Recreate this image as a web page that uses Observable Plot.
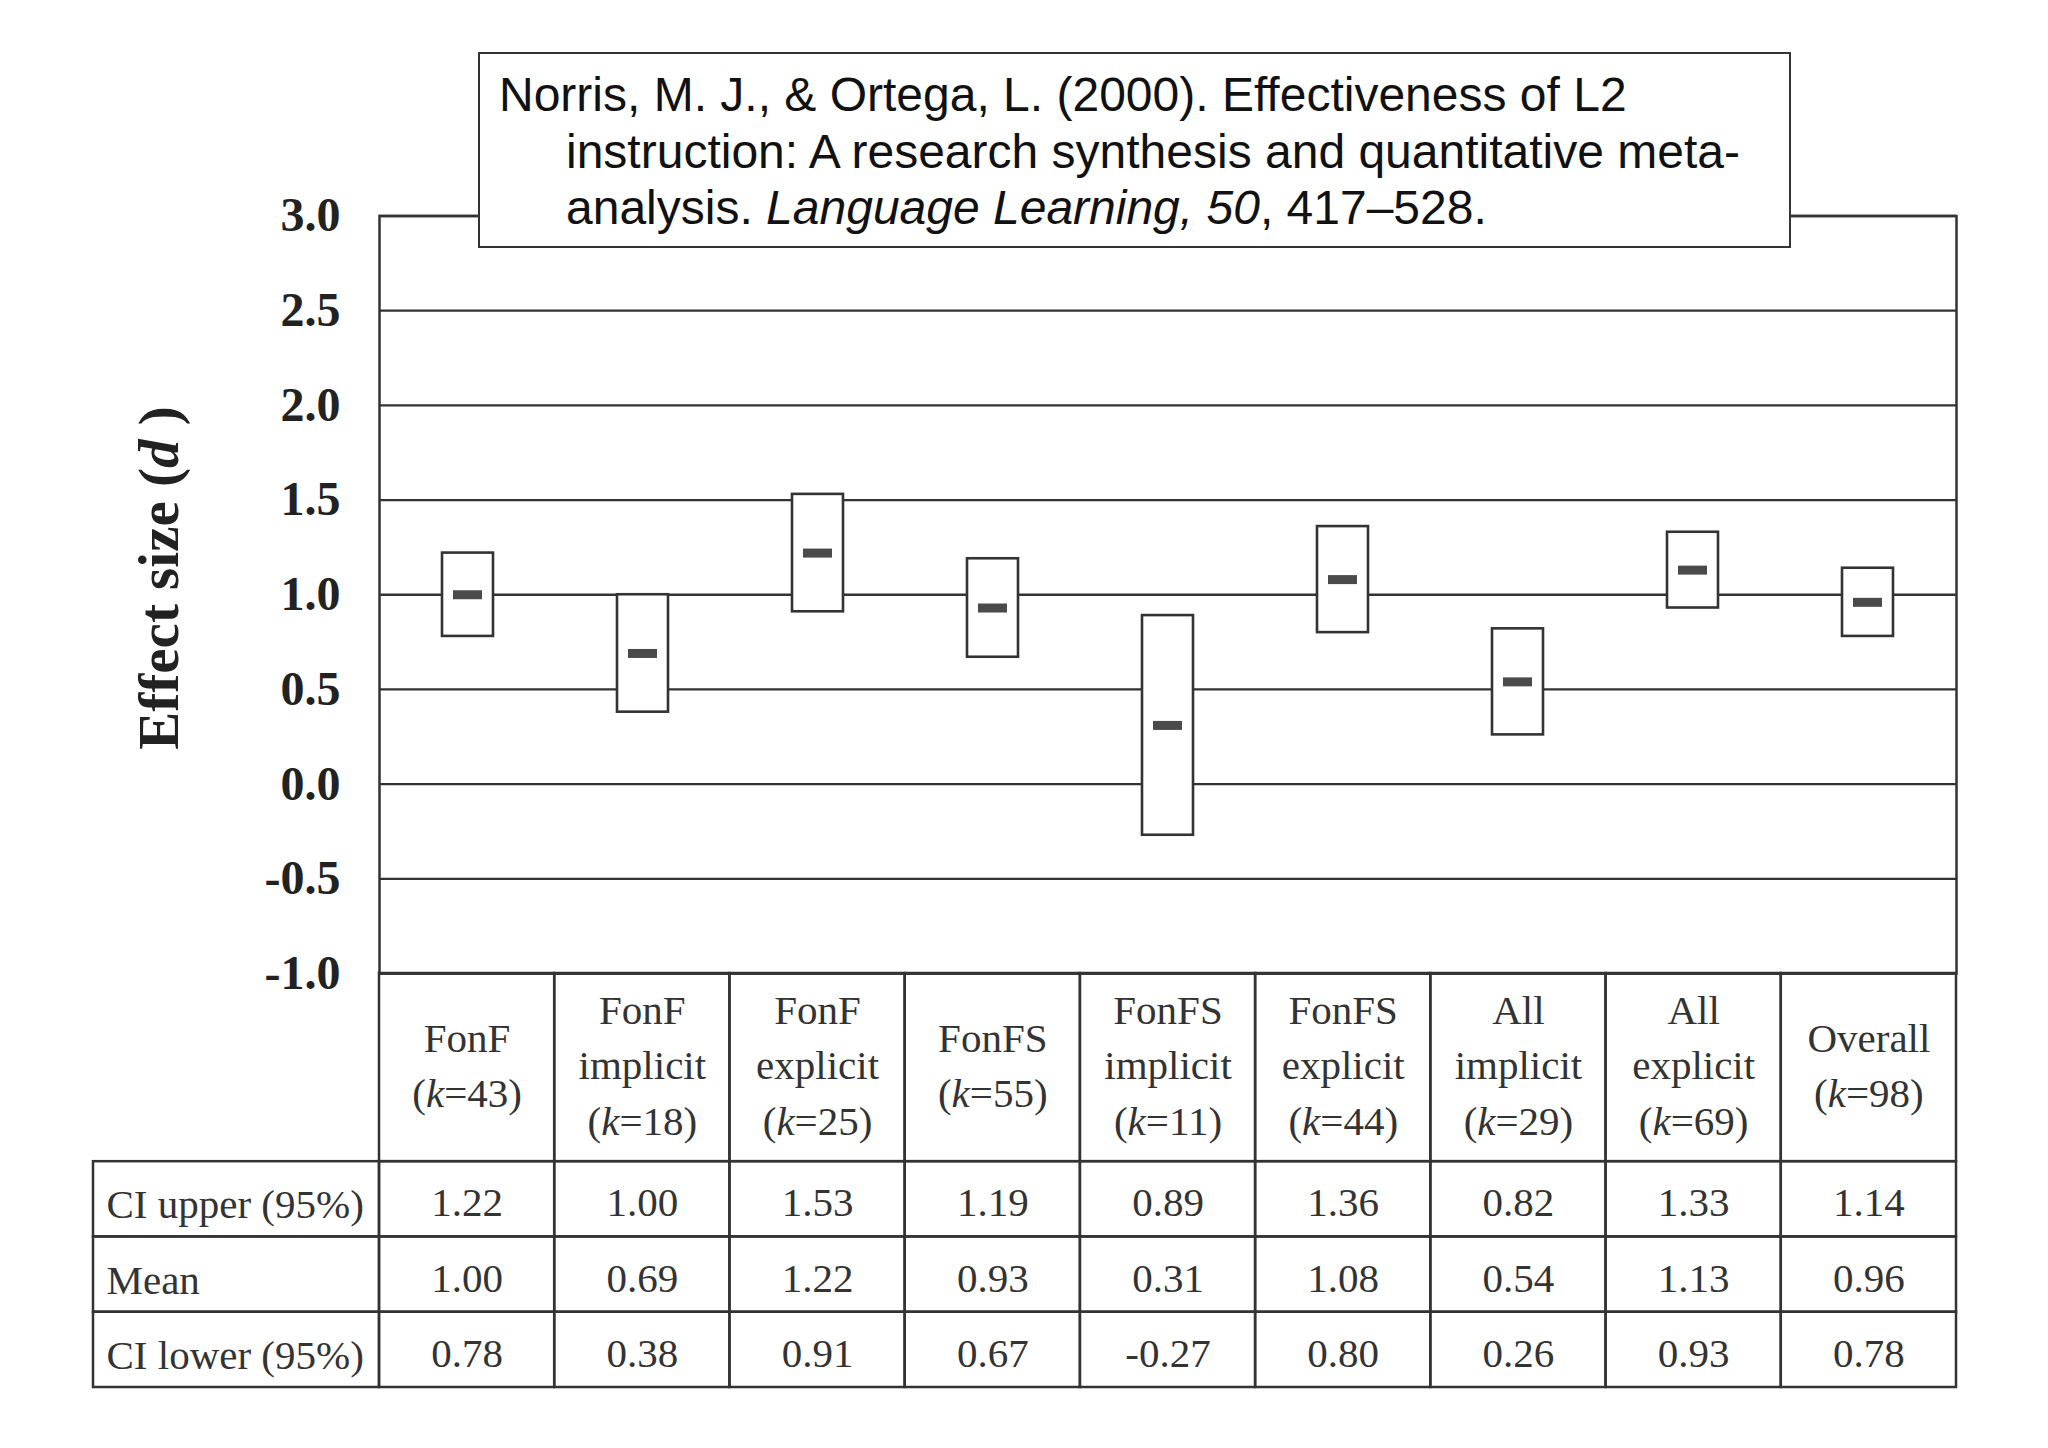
<!DOCTYPE html>
<html>
<head>
<meta charset="utf-8">
<script src="https://cdn.jsdelivr.net/npm/d3@7"></script>
<script src="https://cdn.jsdelivr.net/npm/@observablehq/plot@0.6"></script>
<style>
  html, body { margin: 0; padding: 0; background: #fff; overflow: hidden; }
  #root { position: relative; width: 2048px; height: 1448px; background: #fff; }
  #root svg { position: absolute; left: 0; display: block; max-width: none; }
  #cite {
    position: absolute; left: 478px; top: 52px; width: 1313px; height: 196px;
    box-sizing: border-box; border: 2.5px solid #333; background: #fff; z-index: 3;
    font-family: "Liberation Sans", Arial, sans-serif; font-size: 48px; line-height: 56.5px;
    color: #111; padding: 13px 0 0 86px; text-indent: -67px; white-space: nowrap;
  }
  #ytitle {
    position: absolute; left: 158px; top: 578px; z-index: 3;
    transform: translate(-50%, -50%) rotate(-90deg); white-space: nowrap;
    font-family: "Liberation Serif", "Times New Roman", serif; font-weight: bold;
    font-size: 57px; color: #222; line-height: 1;
  }
</style>
</head>
<body>
<div id="root">
  <div id="cite">Norris, M. J., &amp; Ortega, L. (2000). Effectiveness of L2<br>instruction: A research synthesis and quantitative meta-<br>analysis. <i>Language Learning, 50</i>, 417–528.</div>
  <div id="ytitle">Effect size (<i>d</i> )</div>
</div>
<script>
// ---------- data ----------
const categories = ["FonF", "FonF implicit", "FonF explicit", "FonFS", "FonFS implicit",
                    "FonFS explicit", "All implicit", "All explicit", "Overall"];
const headerLines = [["FonF"], ["FonF", "implicit"], ["FonF", "explicit"], ["FonFS"],
                     ["FonFS", "implicit"], ["FonFS", "explicit"], ["All", "implicit"],
                     ["All", "explicit"], ["Overall"]];
const kValues = [43, 18, 25, 55, 11, 44, 29, 69, 98];
const ciUpper = [1.22, 1.00, 1.53, 1.19, 0.89, 1.36, 0.82, 1.33, 1.14];
const means   = [1.00, 0.69, 1.22, 0.93, 0.31, 1.08, 0.54, 1.13, 0.96];
const ciLower = [0.78, 0.38, 0.91, 0.67, -0.27, 0.80, 0.26, 0.93, 0.78];
const yTicks = [-1, -0.5, 0, 0.5, 1, 1.5, 2, 2.5, 3];
const rowLabels = ["CI upper (95%)", "Mean", "CI lower (95%)"];

const data = categories.map((c, i) => ({cat: c, upper: ciUpper[i], mean: means[i], lower: ciLower[i]}));

const root = document.getElementById("root");
const LINE = "#333";
const W = 2048, ML = 379, MR = 92;

// ---------- chart ----------
const chart = Plot.plot({
  width: W, height: 990,
  marginLeft: ML, marginRight: MR, marginTop: 215.5, marginBottom: 17,
  x: {type: "band", domain: categories, padding: 0, axis: null},
  y: {domain: [-1, 3], axis: null},
  style: {fontFamily: "Liberation Serif, serif", fontSize: "48px", fontWeight: "bold",
          color: "#222", background: "transparent", overflow: "visible"},
  marks: [
    Plot.ruleY(yTicks, {stroke: LINE, strokeWidth: 2.3, strokeOpacity: 1}),
    Plot.frame({stroke: LINE, strokeWidth: 2.5}),
    Plot.rect(data, {x: "cat", y1: "lower", y2: "upper", fill: "white", stroke: LINE,
                     strokeWidth: 2.6, insetLeft: 62, insetRight: 62}),
    Plot.tickY(data, {x: "cat", y: "mean", stroke: "#4a4a4a", strokeWidth: 9,
                      strokeOpacity: 1, insetLeft: 73, insetRight: 73}),
    Plot.axisY({ticks: yTicks, tickFormat: d => d.toFixed(1), tickSize: 0, tickPadding: 39,
                fontSize: 48, fontWeight: "bold", fill: "#222", label: null})
  ]
});
chart.style.top = "0px";
root.appendChild(chart);

// ---------- table ----------
const labelUnits = (ML - 93) / ((W - ML - MR) / categories.length);
const HEADER = 2.5;
const cells = [];
categories.forEach((c, i) => {
  cells.push({x1: i, x2: i + 1, y1: 0, y2: HEADER,
              text: headerLines[i].join("\n") + "\n(k=" + kValues[i] + ")", kind: "head"});
});
const rowValues = [ciUpper, means, ciLower];
rowLabels.forEach((lab, r) => {
  cells.push({x1: -labelUnits, x2: 0, y1: HEADER + r, y2: HEADER + r + 1, text: lab, kind: "label"});
  rowValues[r].forEach((v, i) => {
    cells.push({x1: i, x2: i + 1, y1: HEADER + r, y2: HEADER + r + 1, text: v.toFixed(2), kind: "value"});
  });
});

const cx = d => (d.x1 + d.x2) / 2;
const cy = d => (d.y1 + d.y2) / 2;

const table = Plot.plot({
  width: W, height: 444,
  marginLeft: 93, marginRight: MR, marginTop: 10, marginBottom: 20,
  x: {type: "linear", domain: [-labelUnits, categories.length], axis: null},
  y: {type: "linear", domain: [0, HEADER + rowLabels.length], reverse: true, axis: null},
  style: {fontFamily: "Liberation Serif, serif", fontSize: "41px", color: "#333",
          background: "transparent", overflow: "visible"},
  marks: [
    Plot.rect(cells, {x1: "x1", x2: "x2", y1: "y1", y2: "y2", fill: "none",
                      stroke: LINE, strokeWidth: 2.5}),
    Plot.text(cells.filter(d => d.kind === "head"), {
      x: cx, y: cy, text: "text", dy: -6,
      fontSize: 41, lineHeight: 1.36, fill: "#333"}),
    Plot.text(cells.filter(d => d.kind === "value"), {
      x: cx, y: cy, text: "text", dy: 4,
      fontSize: 41, fill: "#333"}),
    Plot.text(cells.filter(d => d.kind === "label"), {
      x: "x1", y: cy, text: "text", textAnchor: "start", dx: 13, dy: 6,
      fontSize: 41, fill: "#333"})
  ]
});
table.style.top = "963px";
root.appendChild(table);

// italic k in header labels
table.querySelectorAll("tspan, text").forEach(el => {
  if (el.children.length) return;
  const m = /^\(k=(\d+)\)$/.exec(el.textContent);
  if (!m) return;
  el.textContent = "(";
  const it = document.createElementNS("http://www.w3.org/2000/svg", "tspan");
  it.setAttribute("font-style", "italic");
  it.textContent = "k";
  el.appendChild(it);
  el.appendChild(document.createTextNode("=" + m[1] + ")"));
});
</script>
</body>
</html>
